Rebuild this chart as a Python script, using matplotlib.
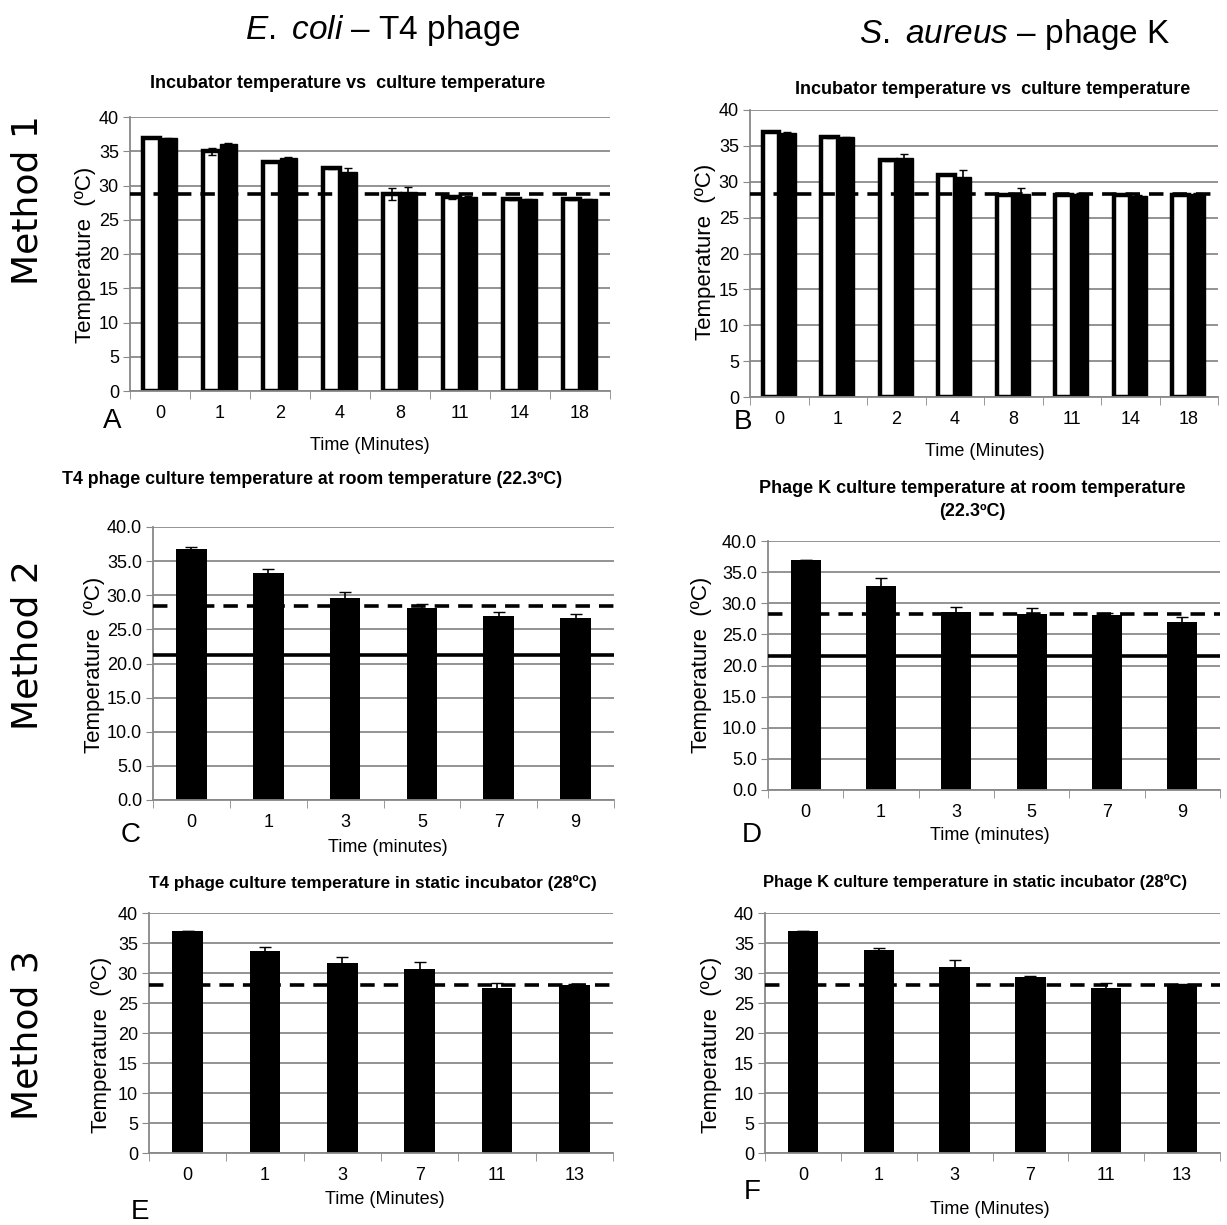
import numpy as np
import matplotlib.pyplot as plt

# Figure size in pixels, so panels can be placed from the reference picture
W, H = 1227, 1225

plt.rcParams['font.family'] = ['Liberation Sans', 'DejaVu Sans']
plt.rcParams['mathtext.fontset'] = 'custom'
plt.rcParams['mathtext.it'] = 'Liberation Sans:italic'
plt.rcParams['mathtext.rm'] = 'Liberation Sans'

# Method 1: incubator vs culture temperature
a_times = ['0', '1', '2', '4', '8', '11', '14', '18']
a_incubator = [37.0, 35.0, 33.5, 32.5, 28.8, 28.3, 28.0, 28.0]
a_incubator_err = [0.1, 0.5, 0.1, 0.1, 0.9, 0.2, 0.1, 0.1]
a_culture = [36.9, 36.0, 34.0, 32.0, 29.0, 28.3, 28.0, 28.0]
a_culture_err = [0.1, 0.2, 0.2, 0.5, 0.8, 0.2, 0.1, 0.1]
a_ref = 28.7

b_times = ['0', '1', '2', '4', '8', '11', '14', '18']
b_incubator = [37.0, 36.2, 33.0, 31.0, 28.2, 28.2, 28.2, 28.2]
b_incubator_err = [0.1, 0.1, 0.1, 0.1, 0.1, 0.1, 0.1, 0.1]
b_culture = [36.8, 36.2, 33.3, 30.7, 28.3, 28.3, 28.0, 28.3]
b_culture_err = [0.1, 0.1, 0.5, 1.0, 0.8, 0.2, 0.1, 0.1]
b_ref = 28.3

# Method 2: cooling at room temperature
c_times = ['0', '1', '3', '5', '7', '9']
c_temp = [36.8, 33.3, 29.6, 28.1, 27.0, 26.6]
c_err = [0.2, 0.5, 0.9, 0.6, 0.5, 0.7]
c_ref = 28.4
c_room = 21.3

d_times = ['0', '1', '3', '5', '7', '9']
d_temp = [37.0, 32.8, 28.6, 28.3, 28.1, 27.0]
d_err = [0.0, 1.3, 0.8, 0.9, 0.4, 0.8]
d_ref = 28.2
d_room = 21.6

# Method 3: static incubator at 28 C
e_times = ['0', '1', '3', '7', '11', '13']
e_temp = [37.0, 33.6, 31.6, 30.7, 27.5, 28.0]
e_err = [0.0, 0.8, 1.0, 1.1, 0.9, 0.1]
e_ref = 28.0

f_times = ['0', '1', '3', '7', '11', '13']
f_temp = [37.0, 33.9, 31.0, 29.3, 27.5, 28.0]
f_err = [0.0, 0.2, 1.1, 0.2, 0.9, 0.1]
f_ref = 28.0


def px_axes(fig, left, top, right, bottom):
    return fig.add_axes([left / W, 1 - bottom / H, (right - left) / W, (bottom - top) / H])


def px_text(fig, x, y, s, **kw):
    kw.setdefault('ha', 'center')
    kw.setdefault('va', 'center')
    fig.text(x / W, 1 - y / H, s, **kw)


# Excel-like look: grey grid, category ticks between groups
def style_axes(ax, labels, decimals):
    n = len(labels)
    ax.set_xlim(-0.5, n - 0.5)
    ax.set_ylim(0, 40)
    ax.set_yticks(np.arange(0, 41, 5))
    fmt = '{:.1f}' if decimals else '{:.0f}'
    ax.set_yticklabels([fmt.format(v) for v in np.arange(0, 41, 5)], fontsize=13)
    ax.set_xticks(np.arange(n))
    ax.set_xticklabels(labels, fontsize=13)
    ax.set_xticks(np.arange(n + 1) - 0.5, minor=True)
    ax.tick_params(axis='x', which='major', length=0, pad=10)
    ax.tick_params(axis='x', which='minor', length=6, color='#888888')
    ax.tick_params(axis='y', length=5, color='#888888', pad=3)
    ax.grid(axis='y', color='#8a8a8a', linewidth=1.3)
    ax.set_axisbelow(True)
    for side in ['top', 'right']:
        ax.spines[side].set_visible(False)
    ax.spines['left'].set_color('#888888')
    ax.spines['bottom'].set_color('#888888')
    ax.spines['left'].set_linewidth(1.3)
    ax.spines['bottom'].set_linewidth(1.3)


def paired_bars(ax, labels, open_vals, open_err, filled_vals, filled_err, ref):
    x = np.arange(len(labels))
    w = 0.28
    ax.bar(x - w / 2, open_vals, w, color='white', edgecolor='black', linewidth=3.2,
           yerr=open_err, error_kw=dict(ecolor='black', elinewidth=1.2, capsize=3))
    ax.bar(x + w / 2, filled_vals, w, color='black', edgecolor='black', linewidth=1,
           yerr=filled_err, error_kw=dict(ecolor='black', elinewidth=1.2, capsize=3))
    ax.axhline(ref, color='black', linestyle=(0, (4, 2.5)), linewidth=2.6, zorder=5)


def single_bars(ax, labels, vals, err, ref, room=None):
    x = np.arange(len(labels))
    ax.bar(x, vals, 0.4, color='black',
           yerr=err, error_kw=dict(ecolor='black', elinewidth=1.2, capsize=4))
    ax.axhline(ref, color='black', linestyle=(0, (4, 2.5)), linewidth=2.6, zorder=5)
    if room is not None:
        ax.axhline(room, color='black', linewidth=2.6, zorder=5)


fig = plt.figure(figsize=(W / 100, H / 100), dpi=100)

ax_a = px_axes(fig, 130, 117, 610, 391)
paired_bars(ax_a, a_times, a_incubator, a_incubator_err, a_culture, a_culture_err, a_ref)
style_axes(ax_a, a_times, False)

ax_b = px_axes(fig, 750, 110, 1218, 397)
paired_bars(ax_b, b_times, b_incubator, b_incubator_err, b_culture, b_culture_err, b_ref)
style_axes(ax_b, b_times, False)

ax_c = px_axes(fig, 153, 527, 614, 800)
single_bars(ax_c, c_times, c_temp, c_err, c_ref, c_room)
style_axes(ax_c, c_times, True)

ax_d = px_axes(fig, 768, 541, 1220, 790)
single_bars(ax_d, d_times, d_temp, d_err, d_ref, d_room)
style_axes(ax_d, d_times, True)

ax_e = px_axes(fig, 149, 913, 613, 1153)
single_bars(ax_e, e_times, e_temp, e_err, e_ref)
style_axes(ax_e, e_times, False)

ax_f = px_axes(fig, 765, 913, 1220, 1153)
single_bars(ax_f, f_times, f_temp, f_err, f_ref)
style_axes(ax_f, f_times, False)

# panel titles
bold = dict(fontweight='bold')
px_text(fig, 348, 83, 'Incubator temperature vs  culture temperature', fontsize=13, **bold)
px_text(fig, 993, 89, 'Incubator temperature vs  culture temperature', fontsize=13, **bold)
px_text(fig, 312, 480, 'T4 phage culture temperature at room temperature (22.3ºC)',
        fontsize=12.8, **bold)
px_text(fig, 972, 500, 'Phage K culture temperature at room temperature\n(22.3ºC)',
        fontsize=13, linespacing=1.45, **bold)
px_text(fig, 373, 883, 'T4 phage culture temperature in static incubator (28ºC)',
        fontsize=12.3, **bold)
px_text(fig, 975, 882, 'Phage K culture temperature in static incubator (28ºC)',
        fontsize=11.9, **bold)

# axis labels
ylab = dict(fontsize=16, rotation=90)
for x, y in [(86, 255), (706, 252), (94, 665), (702, 665), (101, 1045), (712, 1045)]:
    px_text(fig, x, y, 'Temperature  (ºC)', **ylab)

xlab = dict(fontsize=13)
px_text(fig, 370, 445, 'Time (Minutes)', **xlab)
px_text(fig, 985, 452, 'Time (Minutes)', **xlab)
px_text(fig, 388, 848, 'Time (minutes)', **xlab)
px_text(fig, 990, 835, 'Time (minutes)', **xlab)
px_text(fig, 385, 1200, 'Time (Minutes)', **xlab)
px_text(fig, 990, 1210, 'Time (Minutes)', **xlab)

# panel letters
letter = dict(fontsize=20)
for s, x, y in [('A', 112, 421), ('B', 743, 422), ('C', 131, 835),
                ('D', 752, 835), ('E', 140, 1212), ('F', 752, 1192)]:
    px_text(fig, x, y, s, **letter)

# column and row headers
px_text(fig, 383, 30, '$\\it{E.\\ coli}$ – T4 phage', fontsize=24)
px_text(fig, 1015, 35, '$\\it{S.\\ aureus}$ – phage K', fontsize=24)
for s, y in [('Method 1', 200), ('Method 2', 645), ('Method 3', 1035)]:
    px_text(fig, 28, y, s, family='DejaVu Sans', fontsize=26, rotation=90)

fig.savefig('out.png', dpi=100)
